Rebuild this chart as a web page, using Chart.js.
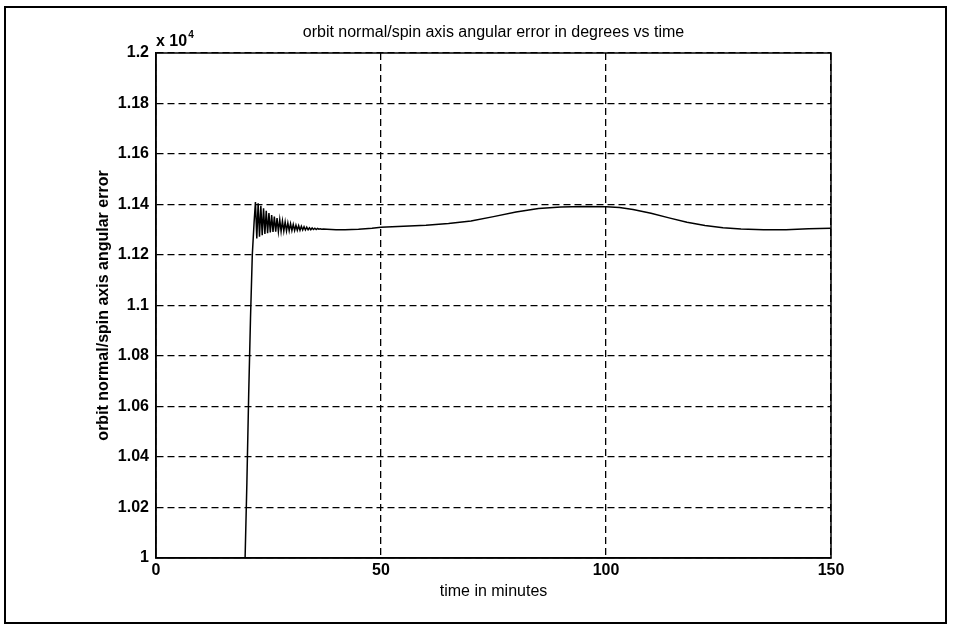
<!DOCTYPE html>
<html>
<head>
<meta charset="utf-8">
<script src="https://cdn.jsdelivr.net/npm/chart.js@4"></script>
<style>
  body { margin: 0; background: #fff; }
  canvas { display: block; }
</style>
</head>
<body>
<canvas id="errChart" width="957" height="630"></canvas>
<script>
const ctx = document.getElementById('errChart').getContext('2d');

const chartTitle = 'orbit normal/spin axis angular error in degrees vs time';
const xTitle = 'time in minutes';
const yTitle = 'orbit normal/spin axis angular error';
const xTickLabels = ['0', '50', '100', '150'];
const yTickLabels = ['1', '1.02', '1.04', '1.06', '1.08', '1.1', '1.12', '1.14', '1.16', '1.18', '1.2'];

// time (minutes)
const times = [
    0, 19.8, 20.2, 20.6, 21.0, 21.4, 21.8,
    22.1, 22.4, 22.7, 23.0, 23.3, 23.6, 23.9, 24.2, 24.5, 24.8,
    25.1, 25.4, 25.7, 26.0, 26.3, 26.6, 26.9, 27.2, 27.5, 27.8,
    28.1, 28.4, 28.7, 29.0, 29.3, 29.6, 29.9, 30.2, 30.5, 30.8,
    31.1, 31.4, 31.7, 32.0, 32.3, 32.6, 32.9, 33.2, 33.5, 33.8,
    34.1, 34.4, 34.7, 35.0, 35.3, 35.6, 35.9, 36.2, 36.5, 36.8,
    37.2, 38, 40, 42, 45, 48, 50, 55, 60, 65, 70, 75, 80, 85, 90, 95,
    100, 103, 106, 110, 114, 118, 122, 126, 130, 135, 140, 145, 150
];
// angular error (degrees)
const errors = [
    10000, 10000, 10300, 10650, 10950, 11200, 11330,
    11410, 11265, 11405, 11272, 11395, 11278, 11385, 11283, 11375, 11286,
    11366, 11289, 11358, 11291, 11352, 11292, 11346, 11293, 11340, 11294,
    11335, 11295, 11331, 11295, 11327, 11296, 11324, 11297, 11321, 11297,
    11318, 11298, 11316, 11298, 11314, 11299, 11312, 11299, 11310, 11300,
    11308, 11300, 11307, 11301, 11306, 11301, 11305, 11302, 11304, 11302,
    11303, 11302, 11300, 11300, 11302, 11306, 11310, 11314, 11318, 11325, 11335, 11352, 11370, 11384, 11390, 11392,
    11391, 11388, 11380, 11365, 11347, 11330, 11317, 11308, 11303, 11300, 11300, 11304, 11306
];

const FONT = 'Liberation Sans, Arial, Helvetica, sans-serif';

// box round the axes, outer frame and the x10^4 mark
const extras = {
    id: 'extras',
    afterDraw(chart) {
        const c = chart.ctx;
        const a = chart.chartArea;
        c.save();
        c.strokeStyle = '#000';
        c.lineWidth = 1.5;
        c.setLineDash([]);
        c.strokeRect(a.left, a.top, a.right - a.left, a.bottom - a.top);
        c.lineWidth = 2;
        c.strokeRect(5, 7, 941, 616);
        c.fillStyle = '#000';
        c.textBaseline = 'alphabetic';
        c.font = 'bold 16px ' + FONT;
        c.fillText('x 10', a.left, a.top - 7);
        const w = c.measureText('x 10').width;
        c.font = 'bold 10px ' + FONT;
        c.fillText('4', a.left + w + 1, a.top - 15);
        c.restore();
    }
};

new Chart(ctx, {
    type: 'line',
    data: {
        datasets: [{
            data: times.map((t, i) => ({ x: t, y: errors[i] })),
            borderColor: '#000',
            borderWidth: 1.5,
            pointRadius: 0,
            tension: 0,
            fill: false
        }]
    },
    options: {
        responsive: false,
        animation: false,
        layout: { padding: { left: 0, right: 126, top: 0, bottom: 0 } },
        plugins: {
            legend: { display: false },
            tooltip: { enabled: false },
            title: {
                display: true,
                text: chartTitle,
                fullSize: false,
                color: '#000',
                font: { family: FONT, size: 16, weight: 'normal', lineHeight: 1.2 },
                padding: { top: 23.4, bottom: 10.4 }
            }
        },
        scales: {
            x: {
                type: 'linear',
                min: 0,
                max: 150,
                afterFit(scale) { scale.height = 72; },
                afterBuildTicks(scale) {
                    scale.ticks = xTickLabels.map(v => ({ value: Number(v) }));
                },
                ticks: {
                    color: '#000',
                    padding: 3,
                    maxRotation: 0,
                    font: { family: FONT, size: 16, weight: 'bold' },
                    callback: (v, i) => xTickLabels[i]
                },
                grid: {
                    color: '#000',
                    lineWidth: 1.3,
                    drawTicks: false
                },
                border: { display: true, color: '#000', width: 1.5, dash: [7, 4] },
                title: {
                    display: true,
                    text: xTitle,
                    color: '#000',
                    font: { family: FONT, size: 16, lineHeight: 1.2 },
                    padding: { top: 0, bottom: 28.4 }
                }
            },
            y: {
                type: 'linear',
                min: 10000,
                max: 12000,
                afterFit(scale) { scale.width = 156; },
                afterBuildTicks(scale) {
                    scale.ticks = yTickLabels.map(v => ({ value: Math.round(Number(v) * 10000) }));
                },
                ticks: {
                    color: '#000',
                    padding: 7,
                    font: { family: FONT, size: 16, weight: 'bold' },
                    callback: (v, i) => yTickLabels[i]
                },
                grid: {
                    color: '#000',
                    lineWidth: 1.3,
                    drawTicks: false
                },
                border: { display: true, color: '#000', width: 1.5, dash: [7, 4] },
                title: {
                    display: true,
                    text: yTitle,
                    color: '#000',
                    font: { family: FONT, size: 16, weight: 'bold', lineHeight: 1.2 },
                    padding: { top: 94.4, bottom: 0 }
                }
            }
        }
    },
    plugins: [extras]
});
</script>
</body>
</html>
